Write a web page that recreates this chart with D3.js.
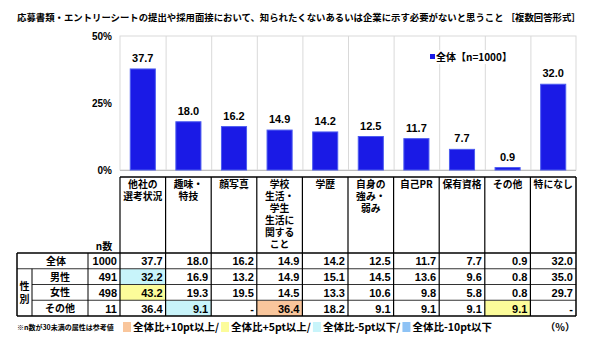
<!DOCTYPE html>
<html><head><meta charset="utf-8">
<script src="https://cdn.jsdelivr.net/npm/d3@7"></script>
<style>
html,body{margin:0;padding:0;background:#fff;}
svg{display:block;font-family:"Noto Sans CJK JP","Liberation Sans",Arial,sans-serif;}
</style></head>
<body><svg id="c" width="600" height="342"></svg>
<script>
const title = "応募書類・エントリーシートの提出や採用面接において、知られたくないあるいは企業に示す必要がないと思うこと ［複数回答形式］";
const categories = ["他社の選考状況","趣味・特技","顔写真","学校生活・学生生活に関すること","学歴","自身の強み・弱み","自己PR","保有資格","その他","特になし"];
const categoryLines = [["他社の","選考状況"],["趣味・","特技"],["顔写真"],["学校","生活・","学生","生活に","関する","こと"],["学歴"],["自身の","強み・","弱み"],["自己PR"],["保有資格"],["その他"],["特になし"]];
const totalValues = [37.7,18.0,16.2,14.9,14.2,12.5,11.7,7.7,0.9,32.0];
const maleValues = [32.2,16.9,13.2,14.9,15.1,14.5,13.6,9.6,0.8,35.0];
const femaleValues = [43.2,19.3,19.5,14.5,13.3,10.6,9.8,5.8,0.8,29.7];
const otherValues = [36.4,9.1,null,36.4,18.2,9.1,9.1,9.1,9.1,null];
const rowLabels = ["全体","男性","女性","その他"];
const nCounts = [1000,491,498,11];
const yTicks = [0,25,50];
const seriesName = "全体【n=1000】";
const legendItems = ["全体比+10pt以上/","全体比+5pt以上/","全体比-5pt以下/","全体比-10pt以下"];
const legendColors = ["#f9c69c","#fcfc9a","#c8f4fa","#8ec3f5"];

const svg = d3.select("#c");
const x = d3.scaleBand().domain(categories).range([120,576]).padding(0);
const y = d3.scaleLinear().domain([0,50]).range([170,36]);

// title
svg.append("text").attr("x",17).attr("y",21).attr("font-size",9.4).attr("font-weight","bold").text(title);

// plot area
const g = svg.append("g");
g.append("rect").attr("x",120).attr("y",y(50)).attr("width",456).attr("height",y(0)-y(50))
  .attr("fill","none").attr("stroke","#d9d9d9").attr("stroke-width",1);
categories.slice(1).forEach(c=>{
  g.append("line").attr("x1",x(c)+0.5).attr("x2",x(c)+0.5).attr("y1",y(50)).attr("y2",y(0)).attr("stroke","#d9d9d9");
});
g.append("line").attr("x1",120).attr("x2",576).attr("y1",y(0)+0.5).attr("y2",y(0)+0.5).attr("stroke","#bfbfbf");

// y axis labels
const yAxis = d3.axisLeft(y).tickValues(yTicks).tickFormat(d=>d+"%").tickSize(0).tickPadding(8);
const ya = svg.append("g").attr("transform","translate(120,0)").call(yAxis);
ya.select(".domain").remove();
ya.selectAll("text").attr("font-size",10).attr("font-weight","bold").attr("fill","#000")
  .attr("font-family","'Liberation Sans',Arial,sans-serif");

// bars
const bw = x.bandwidth()*0.55;
g.selectAll("rect.bar").data(totalValues).join("rect").attr("class","bar")
  .attr("x",(d,i)=>x(categories[i])+(x.bandwidth()-bw)/2)
  .attr("y",d=>y(d)).attr("width",bw).attr("height",d=>y(0)-y(d))
  .attr("fill","#1a1ae6").attr("stroke","#4d5cf0").attr("stroke-width",1);
g.selectAll("text.val").data(totalValues).join("text").attr("class","val")
  .attr("x",(d,i)=>x(categories[i])+x.bandwidth()/2)
  .attr("y",d=>y(d)-7).attr("text-anchor","middle").attr("font-size",11).attr("font-weight","bold")
  .attr("font-family","'Liberation Sans',Arial,sans-serif").text(d=>d.toFixed(1));

// legend in plot
svg.append("rect").attr("x",425).attr("y",50).attr("width",85).attr("height",14).attr("fill","#fff");
svg.append("rect").attr("x",430).attr("y",54).attr("width",5).attr("height",5).attr("fill","#1a1ae6");
svg.append("text").attr("x",436).attr("y",61).attr("font-size",10).attr("font-weight","bold").text(seriesName);

// table
const tTop = 177, rowH = 15.75;
const rowsTop = [253, 268.75, 284.5, 300.25];
const tBottom = 316;
const colR = 576;
// header category labels
categoryLines.forEach((lines,i)=>{
  const cx = x(categories[i])+x.bandwidth()/2;
  lines.forEach((l,j)=>{
    svg.append("text").attr("x",cx).attr("y",188+j*12).attr("text-anchor","middle")
      .attr("font-size",9.8).attr("font-weight","bold").text(l);
  });
});
svg.append("text").attr("x",104).attr("y",250).attr("text-anchor","middle").attr("font-size",10).attr("font-weight","bold").text("n数");

// cell highlights
const allRows = [totalValues,maleValues,femaleValues,otherValues];
function colorFor(v,i){
  if(v==null) return null;
  const d = v - totalValues[i];
  if(d>=10) return legendColors[0];
  if(d>=5) return legendColors[1];
  if(d<=-10) return legendColors[3];
  if(d<=-5) return legendColors[2];
  return null;
}
allRows.forEach((row,r)=>{
  if(r===0) return;
  row.forEach((v,i)=>{
    const c = colorFor(v,i);
    if(c) svg.append("rect").attr("x",x(categories[i])).attr("y",rowsTop[r]).attr("width",x.bandwidth())
      .attr("height",rowH).attr("fill",c);
  });
});
// numbers
allRows.forEach((row,r)=>{
  row.forEach((v,i)=>{
    svg.append("text").attr("x",x(categories[i])+x.bandwidth()-3).attr("y",rowsTop[r]+rowH-3.5)
      .attr("text-anchor","end").attr("font-size",11).attr("font-weight","bold")
      .attr("font-family","'Liberation Sans',Arial,sans-serif")
      .text(v==null?"-":v.toFixed(1));
  });
  svg.append("text").attr("x",117).attr("y",rowsTop[r]+rowH-3.5).attr("text-anchor","end")
    .attr("font-size",11).attr("font-weight","bold").attr("font-family","'Liberation Sans',Arial,sans-serif").text(nCounts[r]);
  svg.append("text").attr("x",r===0?56:60).attr("y",rowsTop[r]+rowH-4).attr("text-anchor","middle")
    .attr("font-size",10).attr("font-weight","bold").text(rowLabels[r]);
});
svg.append("text").attr("x",24.5).attr("y",290).attr("text-anchor","middle").attr("font-size",10).attr("font-weight","bold").text("性");
svg.append("text").attr("x",24.5).attr("y",303).attr("text-anchor","middle").attr("font-size",10).attr("font-weight","bold").text("別");

// lines
const L = (x1,y1,x2,y2,w=1,c="#000")=>svg.append("line").attr("x1",x1).attr("y1",y1).attr("x2",x2).attr("y2",y2).attr("stroke",c).attr("stroke-width",w);
L(120,tTop,colR,tTop,1.5);
L(17,rowsTop[0],colR,rowsTop[0],1.5);
L(17,rowsTop[1],colR,rowsTop[1],1.2,"#333");
L(32,rowsTop[2],colR,rowsTop[2],1.2,"#333");
L(32,rowsTop[3],colR,rowsTop[3],1.2,"#333");
L(17,tBottom,colR,tBottom,1.5);
L(17,rowsTop[0],17,tBottom,1.5);
L(32,rowsTop[1],32,tBottom,1);
L(88,rowsTop[0],88,tBottom,1);
L(120,tTop,120,tBottom,1.2);
categories.slice(1).forEach(c=>L(x(c),tTop,x(c),tBottom,1.2));
L(colR,tTop,colR,tBottom,1.5);

// footnote
svg.append("text").attr("x",17).attr("y",330).attr("font-size",7).attr("font-weight","bold").text("※n数が30未満の属性は参考値");
let lx = 123;
legendItems.forEach((t,i)=>{
  svg.append("rect").attr("x",lx).attr("y",322).attr("width",8).attr("height",10).attr("fill",legendColors[i]);
  const tx = svg.append("text").attr("x",lx+10).attr("y",331).attr("font-size",10.5).attr("font-weight","bold").text(t);
  lx += 10 + tx.node().getComputedTextLength() + 2;
});
svg.append("text").attr("x",575).attr("y",331).attr("text-anchor","end").attr("font-size",10).attr("font-weight","bold").text("（%）");
</script></body></html>
